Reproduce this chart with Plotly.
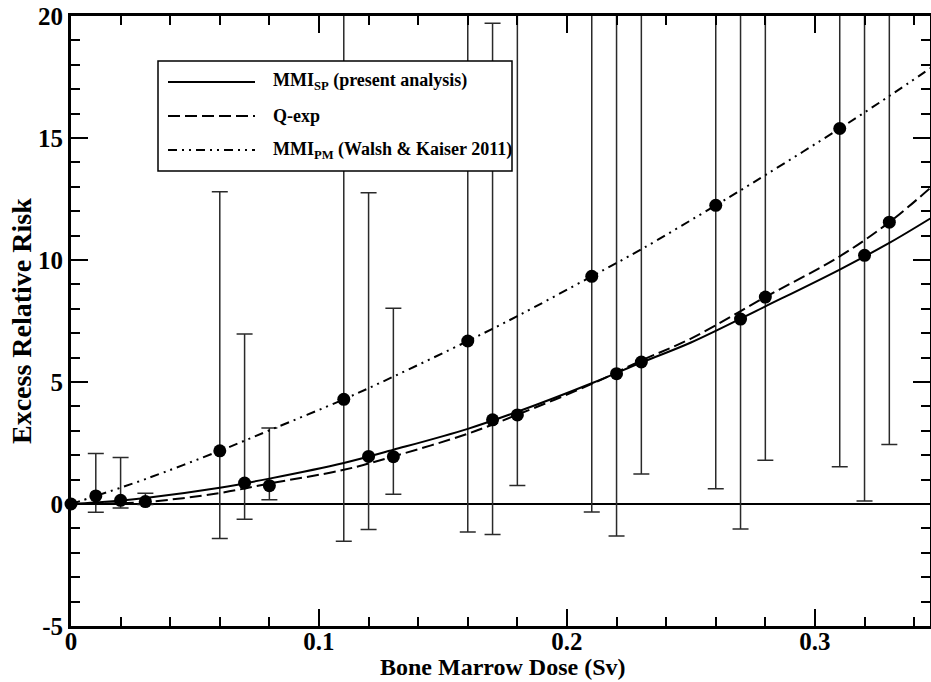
import plotly.graph_objects as go

# ---------------- data ----------------
dose = [0.00, 0.01, 0.02, 0.03, 0.06, 0.07, 0.08, 0.11, 0.12, 0.13, 0.16,
        0.17, 0.18, 0.21, 0.22, 0.23, 0.26, 0.27, 0.28, 0.31, 0.32, 0.33]
err = [0.00, 0.33, 0.15, 0.10, 2.18, 0.86, 0.75, 4.29, 1.95, 1.94, 6.68,
       3.45, 3.65, 9.33, 5.34, 5.82, 12.24, 7.58, 8.48, 15.39, 10.19, 11.55]
err_upper = [0.00, 2.07, 1.91, 0.44, 12.80, 6.97, 3.11, 24.5, 12.76, 8.02, 28.0,
             19.70, 22.5, 32.0, 26.0, 24.0, 35.0, 27.0, 29.0, 38.0, 31.0, 33.0]
err_lower = [0.00, -0.34, -0.16, -0.02, -1.41, -0.63, 0.17, -1.53, -1.04, 0.40, -1.15,
             -1.25, 0.76, -0.33, -1.31, 1.23, 0.63, -1.02, 1.79, 1.53, 0.12, 2.44]

sp_x = [0.0, 0.01, 0.03, 0.06, 0.08, 0.11, 0.13, 0.16, 0.18, 0.21, 0.23, 0.25, 0.28, 0.31, 0.33, 0.3465]
sp_y = [0.0, 0.06, 0.25, 0.67, 1.04, 1.68, 2.22, 3.08, 3.78, 4.95, 5.80, 6.62, 8.10, 9.61, 10.70, 11.70]

qexp_x = [0.0, 0.01, 0.03, 0.06, 0.08, 0.11, 0.13, 0.16, 0.18, 0.21, 0.23, 0.25, 0.28, 0.31, 0.33, 0.3465]
qexp_y = [0.0, 0.01, 0.08, 0.45, 0.84, 1.40, 1.95, 2.88, 3.66, 4.92, 5.88, 6.78, 8.48, 10.15, 11.55, 12.95]

pm_x = [0.0, 0.01, 0.03, 0.06, 0.08, 0.11, 0.13, 0.16, 0.18, 0.21, 0.23, 0.26, 0.28, 0.31, 0.33, 0.3465]
pm_y = [0.0, 0.33, 1.02, 2.18, 3.02, 4.29, 5.22, 6.68, 7.70, 9.33, 10.44, 12.24, 13.48, 15.39, 16.72, 17.86]

series_names = ["MMI<sub>SP</sub> (present analysis)", "Q-exp", "MMI<sub>PM</sub> (Walsh & Kaiser 2011)"]

x_tickvals = [0, 0.1, 0.2, 0.3]
x_ticktext = ["0", "0.1", "0.2", "0.3"]
y_tickvals = [-5, 0, 5, 10, 15, 20]
y_ticktext = ["-5", "0", "5", "10", "15", "20"]

x_title = "Bone Marrow Dose (Sv)"
y_title = "Excess Relative Risk"

# ---------------- styling ----------------
FONT = "Liberation Serif"
W, H = 931, 682
ML, MR, MT, MB = 71, 1, 16, 56
PW, PH = W - ML - MR, H - MT - MB

DASH_Q = "12px,5px"
DASH_PM = "9px,5px,2px,5px,2px,5px"

fig = go.Figure()

# error bars (clipped to plot area)
fig.add_trace(go.Scatter(
    x=dose, y=err, mode="markers",
    marker=dict(size=1, color="rgba(0,0,0,0)"),
    error_y=dict(type="data", symmetric=False,
                 array=[u - v for u, v in zip(err_upper, err)],
                 arrayminus=[v - l for v, l in zip(err, err_lower)],
                 color="#2a2a2a", thickness=1.5, width=8),
    cliponaxis=True, showlegend=False, hoverinfo="skip"))

fig.add_trace(go.Scatter(x=sp_x, y=sp_y, mode="lines", line_shape="spline",
                         line=dict(color="black", width=2), name=series_names[0],
                         showlegend=False))
fig.add_trace(go.Scatter(x=qexp_x, y=qexp_y, mode="lines", line_shape="spline",
                         line=dict(color="black", width=2, dash=DASH_Q), name=series_names[1],
                         showlegend=False))
fig.add_trace(go.Scatter(x=pm_x, y=pm_y, mode="lines", line_shape="spline",
                         line=dict(color="black", width=2, dash=DASH_PM), name=series_names[2],
                         showlegend=False))

# data points
fig.add_trace(go.Scatter(x=dose, y=err, mode="markers",
                         marker=dict(size=13, color="black"),
                         cliponaxis=False, showlegend=False, name="ERR"))

# ---------------- manual legend box ----------------
def px_x(p):
    return (p - ML) / PW

def px_y(p):
    return (H - MB - p) / PH

shapes = [dict(type="rect", xref="paper", yref="paper",
               x0=px_x(158), x1=px_x(512), y0=px_y(171), y1=px_y(61),
               line=dict(color="black", width=1.5), fillcolor="white", layer="above")]
rows = [82, 116, 150]
dashes = ["solid", DASH_Q, DASH_PM]
annotations = []
for r, d, name in zip(rows, dashes, series_names):
    shapes.append(dict(type="line", xref="paper", yref="paper",
                       x0=px_x(168), x1=px_x(255), y0=px_y(r), y1=px_y(r),
                       line=dict(color="black", width=2, dash=d), layer="above"))
    annotations.append(dict(xref="paper", yref="paper", x=px_x(271), y=px_y(r),
                            xanchor="left", yanchor="middle", showarrow=False,
                            text=name, font=dict(family=FONT, size=18, color="black", weight="bold")))

# axis titles
annotations.append(dict(xref="paper", yref="paper", x=px_x(503), y=px_y(667),
                        xanchor="center", yanchor="middle", showarrow=False,
                        text=x_title, font=dict(family=FONT, size=24, color="black", weight="bold")))
annotations.append(dict(xref="paper", yref="paper", x=px_x(21), y=px_y(321),
                        xanchor="center", yanchor="middle", showarrow=False, textangle=-90,
                        text=y_title, font=dict(family=FONT, size=28, color="black", weight="bold")))

axis_common = dict(showline=True, linecolor="black", linewidth=3, mirror="allticks",
                   ticks="inside", ticklen=17, tickwidth=2, tickcolor="black",
                   showgrid=False, automargin=False,
                   tickfont=dict(family=FONT, size=25, color="black", weight="bold"))

fig.update_layout(
    width=W, height=H,
    margin=dict(l=ML, r=MR, t=MT, b=MB, pad=0),
    paper_bgcolor="white", plot_bgcolor="white",
    shapes=shapes, annotations=annotations,
    xaxis=dict(range=[0, 0.3464], tickvals=x_tickvals, ticktext=x_ticktext,
               zeroline=False, ticklabelstandoff=-9,
               minor=dict(dtick=0.02, ticks="inside", ticklen=9, tickwidth=1.5, tickcolor="black"),
               **axis_common),
    yaxis=dict(range=[-5, 20], tickvals=y_tickvals, ticktext=y_ticktext,
               zeroline=True, zerolinecolor="black", zerolinewidth=2,
               minor=dict(dtick=1, ticks="inside", ticklen=9, tickwidth=1.5, tickcolor="black"),
               **axis_common),
)

fig.write_html("out.html")
